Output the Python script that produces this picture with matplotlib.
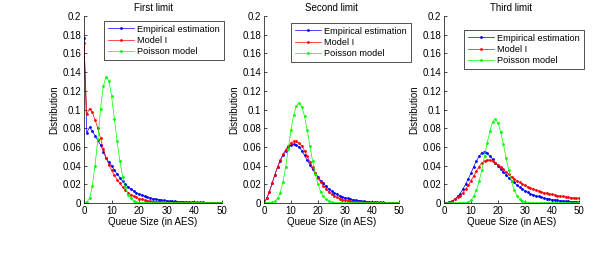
import matplotlib
matplotlib.use("Agg")
import matplotlib.pyplot as plt
import numpy as np
from matplotlib.ticker import FuncFormatter

queue_size = list(range(0, 51))
titles = ["First limit", "Second limit", "Third limit"]
series_names = ["Empirical estimation", "Model I", "Poisson model"]

emp_first = [0.177, 0.075, 0.081, 0.077, 0.072, 0.067, 0.062, 0.055, 0.048, 0.044,
             0.040, 0.035, 0.031, 0.027, 0.023, 0.020, 0.017, 0.015, 0.013, 0.011,
             0.0095, 0.0083, 0.0072, 0.0063, 0.0055, 0.0048, 0.0042, 0.0037, 0.0032, 0.0028,
             0.0025, 0.0022, 0.0019, 0.0017, 0.0015, 0.0013, 0.0012, 0.0011, 0.0010, 0.0009,
             0.0008, 0.0007, 0.0006, 0.0006, 0.0005, 0.0005, 0.0004, 0.0004, 0.0003, 0.0003, 0.0003]
model_first = [0.171, 0.095, 0.101, 0.097, 0.089, 0.080, 0.069, 0.058, 0.048, 0.041,
               0.035, 0.030, 0.025, 0.021, 0.017, 0.014, 0.011, 0.009, 0.0075, 0.006,
               0.0048, 0.0039, 0.0031, 0.0025, 0.002, 0.0016, 0.0013, 0.001, 0.0008, 0.0006,
               0.0005, 0.0004, 0.0003, 0.0003, 0.0002, 0.0002, 0.0001, 0.0001, 0.0001, 0.0001,
               0.0001, 0.0001, 0.0, 0.0, 0.0, 0.0, 0.0, 0.0, 0.0, 0.0, 0.0]
pois_first = [0.0003, 0.001, 0.005, 0.018, 0.040, 0.068, 0.101, 0.125, 0.135, 0.131,
              0.114, 0.090, 0.066, 0.045, 0.028, 0.017, 0.009, 0.005, 0.002, 0.001,
              0.0005, 0.0002, 0.0001, 0.0, 0.0, 0.0, 0.0, 0.0, 0.0, 0.0,
              0.0, 0.0, 0.0, 0.0, 0.0, 0.0, 0.0, 0.0, 0.0, 0.0,
              0.0, 0.0, 0.0, 0.0, 0.0, 0.0, 0.0, 0.0, 0.0, 0.0, 0.0]

emp_second = [0.0, 0.005, 0.012, 0.021, 0.030, 0.038, 0.045, 0.051, 0.056, 0.060,
              0.062, 0.063, 0.062, 0.060, 0.056, 0.051, 0.046, 0.041, 0.036, 0.032,
              0.028, 0.024, 0.021, 0.018, 0.015, 0.013, 0.011, 0.0095, 0.008, 0.0068,
              0.0058, 0.005, 0.0043, 0.0037, 0.0031, 0.0026, 0.0022, 0.0019, 0.0016, 0.0013,
              0.0011, 0.0009, 0.0008, 0.0007, 0.0006, 0.0005, 0.0004, 0.0003, 0.0003, 0.0002, 0.0002]
model_second = [0.0, 0.005, 0.012, 0.021, 0.030, 0.039, 0.046, 0.052, 0.057, 0.061,
                0.064, 0.066, 0.066, 0.064, 0.061, 0.056, 0.050, 0.044, 0.038, 0.032,
                0.027, 0.022, 0.018, 0.015, 0.012, 0.0095, 0.0075, 0.006, 0.0047, 0.0037,
                0.0029, 0.0023, 0.0018, 0.0014, 0.0011, 0.0008, 0.0006, 0.0005, 0.0004, 0.0003,
                0.0002, 0.0002, 0.0001, 0.0001, 0.0001, 0.0001, 0.0, 0.0, 0.0, 0.0, 0.0]
pois_second = [0.0, 0.0, 0.0002, 0.0008, 0.002, 0.005, 0.011, 0.022, 0.038, 0.058,
               0.078, 0.094, 0.104, 0.107, 0.103, 0.093, 0.078, 0.061, 0.045, 0.031,
               0.020, 0.012, 0.007, 0.004, 0.002, 0.001, 0.0005, 0.0002, 0.0001, 0.0,
               0.0, 0.0, 0.0, 0.0, 0.0, 0.0, 0.0, 0.0, 0.0, 0.0,
               0.0, 0.0, 0.0, 0.0, 0.0, 0.0, 0.0, 0.0, 0.0, 0.0, 0.0]

emp_third = [0.0, 0.0003, 0.001, 0.002, 0.004, 0.007, 0.010, 0.015, 0.020, 0.026,
             0.032, 0.039, 0.045, 0.050, 0.054, 0.055, 0.053, 0.050, 0.047, 0.043,
             0.040, 0.036, 0.033, 0.030, 0.027, 0.024, 0.022, 0.019, 0.017, 0.015,
             0.013, 0.0115, 0.010, 0.009, 0.008, 0.007, 0.006, 0.0053, 0.0047, 0.0042,
             0.0037, 0.0033, 0.0029, 0.0026, 0.0023, 0.002, 0.0018, 0.0016, 0.0014, 0.0012, 0.001]
model_third = [0.0, 0.0003, 0.001, 0.002, 0.004, 0.006, 0.008, 0.011, 0.015, 0.019,
               0.024, 0.029, 0.034, 0.039, 0.043, 0.045, 0.046, 0.046, 0.045, 0.043,
               0.041, 0.039, 0.036, 0.033, 0.031, 0.028, 0.026, 0.024, 0.022, 0.020,
               0.019, 0.0175, 0.016, 0.015, 0.014, 0.013, 0.012, 0.011, 0.0105, 0.0098,
               0.0092, 0.0086, 0.008, 0.0075, 0.007, 0.0066, 0.0062, 0.0058, 0.0055, 0.0052, 0.005]
pois_third = [0.0, 0.0, 0.0, 0.0, 0.0, 0.0, 0.0001, 0.0002, 0.0005, 0.001,
              0.003, 0.007, 0.014, 0.023, 0.035, 0.050, 0.064, 0.077, 0.087, 0.090,
              0.086, 0.076, 0.063, 0.048, 0.035, 0.023, 0.014, 0.008, 0.004, 0.002,
              0.001, 0.0005, 0.0002, 0.0001, 0.0, 0.0, 0.0, 0.0, 0.0, 0.0,
              0.0, 0.0, 0.0, 0.0, 0.0, 0.0, 0.0, 0.0, 0.0, 0.0, 0.0]

data = [
    (emp_first, model_first, pois_first),
    (emp_second, model_second, pois_second),
    (emp_third, model_third, pois_third),
]
colors = ["#0000ff", "#ff0000", "#00ff00"]

plt.rcParams['font.family'] = ['Liberation Sans', 'DejaVu Sans']
plt.rcParams['font.size'] = 7

W, H = 615, 256
fig = plt.figure(figsize=(W / 100, H / 100), dpi=100)

ax_px = [(84, 222), (264, 399), (444, 579)]
top_px, bot_px = 16, 203
legend_px = [(104, 21), (291, 23), (464, 30)]  # left, top

for i, (l, r) in enumerate(ax_px):
    ax = fig.add_axes([l / W, 1 - bot_px / H, (r - l) / W, (bot_px - top_px) / H])
    for j, ys in enumerate(data[i]):
        ax.plot(queue_size, ys, color=colors[j], lw=0.5, marker='.', ms=2.0,
                label=series_names[j])
    ax.set_xlim(0, 50)
    ax.set_ylim(0, 0.2)
    ax.set_xticks(range(0, 51, 10))
    ax.set_yticks(np.arange(0, 0.2001, 0.02))
    ax.yaxis.set_major_formatter(FuncFormatter(lambda v, p: ('%g' % round(v, 2))))
    ax.spines['top'].set_visible(False)
    ax.spines['right'].set_visible(False)
    ax.spines['left'].set_linewidth(0.5)
    ax.spines['bottom'].set_linewidth(0.5)
    ax.tick_params(direction='in', length=2.5, width=0.5, labelsize=7, pad=2)
    ax.set_title(titles[i], fontsize=7, pad=3.5)
    ax.set_xlabel("Queue Size (in AES)", fontsize=7, labelpad=1)
    ax.set_ylabel("Distribution", fontsize=7, labelpad=2)
    ll, lt = legend_px[i]
    leg = ax.legend(loc='upper left',
                    bbox_to_anchor=(ll / W, 1 - lt / H), bbox_transform=fig.transFigure,
                    fontsize=6.6, frameon=True, fancybox=False, borderaxespad=0,
                    handlelength=2.9, handletextpad=0.35, borderpad=0.4,
                    labelspacing=0.25)
    leg.get_frame().set_edgecolor('black')
    leg.get_frame().set_linewidth(0.6)

fig.savefig("out.png", dpi=100)
